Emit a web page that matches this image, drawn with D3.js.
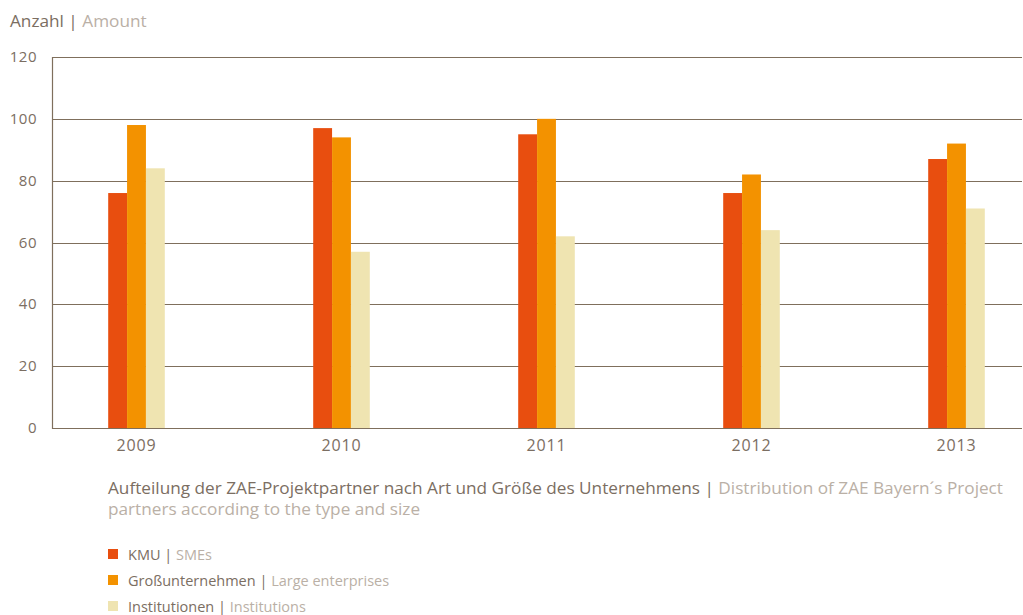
<!DOCTYPE html>
<html>
<head>
<meta charset="utf-8">
<script src="https://cdn.jsdelivr.net/npm/d3@7"></script>
<style>
  html, body { margin: 0; padding: 0; background: #fff; }
  svg { display: block; font-family: "Open Sans", sans-serif; }
</style>
</head>
<body>
<svg id="chart" width="1023" height="615"></svg>
<script>
// Project partners per year, by type and size of organisation
const years = ["2009", "2010", "2011", "2012", "2013"];
const seriesKeys = ["kmu", "gross", "inst"];
const kmu   = [76, 97, 95, 76, 87];
const gross = [98, 94, 100, 82, 92];
const inst  = [84, 57, 62, 64, 71];
const yTicks = [0, 20, 40, 60, 80, 100, 120];
const legendDe = ["KMU", "Großunternehmen", "Institutionen"];
const legendEn = ["SMEs", "Large enterprises", "Institutions"];

const values = { kmu, gross, inst };
const colors = { kmu: "#e84e0f", gross: "#f39200", inst: "#efe4b1" };
const dark = "#7b6e62";
const light = "#bab0a6";
const gridColor = "#7f6f5c";

const svg = d3.select("#chart");
const plotLeft = 52, plotRight = 1022, plotTop = 57, plotBottom = 428;

const y = d3.scaleLinear().domain([0, 120]).range([plotBottom, plotTop]);
const x = d3.scalePoint().domain(years).range([136.5, 956.5]);
const xs = d3.scaleBand().domain(seriesKeys).range([-28.3, 28.3]);

// Heading
const head = svg.append("text").attr("x", 10).attr("y", 27).attr("font-size", 17.2);
head.append("tspan").attr("fill", dark).text("Anzahl | ");
head.append("tspan").attr("fill", light).text("Amount");

// Horizontal grid lines
svg.append("g").selectAll("line").data(yTicks).join("line")
  .attr("x1", plotLeft).attr("x2", plotRight)
  .attr("y1", d => Math.round(y(d)) + 0.5).attr("y2", d => Math.round(y(d)) + 0.5)
  .attr("stroke", gridColor).attr("stroke-width", 1.2);

// Vertical axis line
svg.append("line")
  .attr("x1", plotLeft + 0.5).attr("x2", plotLeft + 0.5)
  .attr("y1", Math.round(y(120))).attr("y2", Math.round(y(0)) + 1)
  .attr("stroke", gridColor).attr("stroke-width", 1.2);

// Y tick labels
svg.append("g").selectAll("text").data(yTicks).join("text")
  .attr("x", 37).attr("y", d => y(d) + 5)
  .attr("text-anchor", "end").attr("font-size", 15).attr("letter-spacing", 0.5)
  .attr("fill", dark)
  .text(d => d);

// Bars
const groups = svg.append("g").selectAll("g").data(years).join("g")
  .attr("transform", d => `translate(${x(d)},0)`);
groups.selectAll("rect")
  .data((yr, i) => seriesKeys.map(k => ({ key: k, value: values[k][i] })))
  .join("rect")
  .attr("x", d => xs(d.key))
  .attr("width", xs.bandwidth())
  .attr("y", d => y(d.value))
  .attr("height", d => y(0) - y(d.value))
  .attr("fill", d => colors[d.key]);

// Year labels
svg.append("g").selectAll("text").data(years).join("text")
  .attr("x", d => x(d)).attr("y", 451)
  .attr("text-anchor", "middle").attr("font-size", 16).attr("letter-spacing", 0.8)
  .attr("fill", dark)
  .text(d => d);

// Caption
const cap1 = svg.append("text").attr("x", 108).attr("y", 494).attr("font-size", 17.2);
cap1.append("tspan").attr("fill", dark).text("Aufteilung der ZAE-Projektpartner nach Art und Größe des Unternehmens | ");
cap1.append("tspan").attr("fill", light).text("Distribution of ZAE Bayern´s Project");
svg.append("text").attr("x", 108).attr("y", 515).attr("font-size", 17.2)
  .attr("fill", light).text("partners according to the type and size");

// Legend
const leg = svg.append("g").selectAll("g").data(seriesKeys).join("g")
  .attr("transform", (d, i) => `translate(108,${549 + i * 26})`);
leg.append("rect").attr("width", 10).attr("height", 10).attr("fill", d => colors[d]);
const lt = leg.append("text").attr("x", 20).attr("y", 10.5).attr("font-size", 14.5);
lt.append("tspan").attr("fill", dark).text((d, i) => legendDe[i] + " | ");
lt.append("tspan").attr("fill", light).text((d, i) => legendEn[i]);
</script>
</body>
</html>
